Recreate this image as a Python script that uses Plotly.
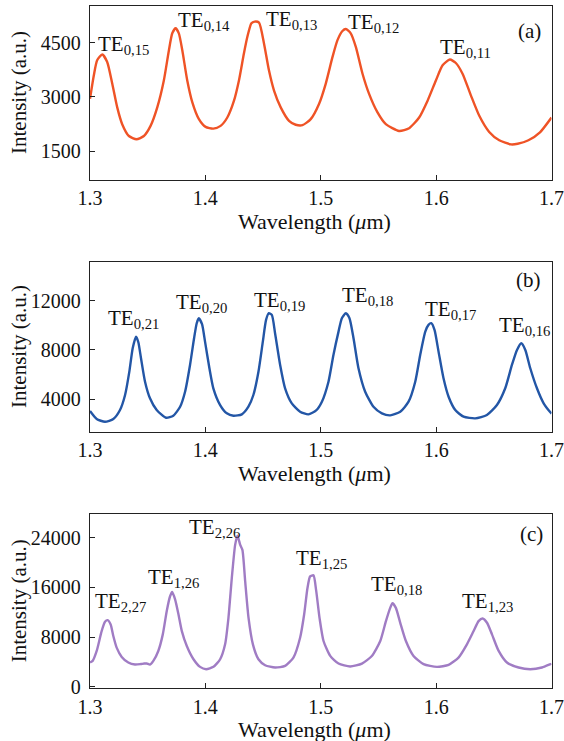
import plotly.graph_objects as go

# ---- spectra: wavelength (um) and intensity (a.u.) ----
wl_a = [1.3000, 1.3033, 1.3062, 1.3106, 1.3149, 1.3193, 1.3236, 1.3279, 1.3337, 1.3403,
        1.3467, 1.3525, 1.3583, 1.3640, 1.3684, 1.3713, 1.3742, 1.3770, 1.3800, 1.3843,
        1.3887, 1.3944, 1.4002, 1.4069, 1.4132, 1.4190, 1.4248, 1.4291, 1.4334, 1.4364,
        1.4399, 1.4427, 1.4465, 1.4508, 1.4551, 1.4595, 1.4653, 1.4725, 1.4783, 1.4841,
        1.4913, 1.4985, 1.5043, 1.5102, 1.5145, 1.5188, 1.5217, 1.5260, 1.5304, 1.5362,
        1.5419, 1.5492, 1.5564, 1.5679, 1.5766, 1.5853, 1.5926, 1.5998, 1.6056, 1.6119,
        1.6171, 1.6229, 1.6302, 1.6374, 1.6460, 1.6547, 1.6649, 1.6707, 1.6800, 1.6900,
        1.7000]
int_a = [2950, 3597, 4016, 4175, 3969, 3365, 2711, 2246, 1919, 1827,
         1919, 2199, 2711, 3457, 4296, 4763, 4903, 4763, 4296, 3457,
         2850, 2386, 2171, 2124, 2199, 2432, 2898, 3457, 4204, 4668,
         5042, 5087, 5059, 4483, 3737, 3177, 2711, 2339, 2230, 2218,
         2386, 2806, 3365, 4109, 4575, 4827, 4883, 4763, 4388, 3644,
         3085, 2571, 2246, 2059, 2134, 2432, 2898, 3457, 3876, 4036,
         3941, 3644, 3038, 2478, 2031, 1799, 1687, 1704, 1800, 2020,
         2430]

wl_b = [1.3000, 1.3058, 1.3130, 1.3202, 1.3260, 1.3304, 1.3341, 1.3370, 1.3399, 1.3419,
        1.3442, 1.3477, 1.3520, 1.3578, 1.3659, 1.3722, 1.3781, 1.3824, 1.3867, 1.3902,
        1.3925, 1.3943, 1.3971, 1.3997, 1.4035, 1.4069, 1.4128, 1.4186, 1.4243, 1.4316,
        1.4373, 1.4416, 1.4460, 1.4498, 1.4526, 1.4550, 1.4576, 1.4604, 1.4648, 1.4691,
        1.4749, 1.4821, 1.4893, 1.4960, 1.5010, 1.5067, 1.5110, 1.5154, 1.5183, 1.5218,
        1.5249, 1.5284, 1.5327, 1.5385, 1.5457, 1.5530, 1.5602, 1.5689, 1.5761, 1.5819,
        1.5862, 1.5906, 1.5934, 1.5958, 1.5986, 1.6021, 1.6064, 1.6108, 1.6166, 1.6238,
        1.6339, 1.6440, 1.6527, 1.6599, 1.6657, 1.6701, 1.6738, 1.6773, 1.6816, 1.6874,
        1.6932, 1.6990, 1.7000]
int_b = [3050, 2406, 2187, 2406, 3136, 4352, 6242, 8140, 9080, 8626,
         7329, 5431, 4085, 3136, 2511, 2674, 3403, 4620, 6785, 8950,
         10167, 10573, 10086, 8675, 6518, 4896, 3541, 2868, 2674, 2787,
         3403, 4352, 6242, 8675, 10435, 10978, 10840, 9356, 6785, 4896,
         3679, 2998, 2787, 3100, 3810, 5431, 7596, 9486, 10573, 10978,
         10573, 8950, 6518, 4620, 3403, 2868, 2706, 2998, 3810, 5431,
         7596, 9486, 10030, 10167, 9624, 7864, 5707, 4214, 3136, 2593,
         2463, 2733, 3541, 4896, 6785, 8002, 8545, 8002, 6518, 4896,
         3679, 2949, 2850]

wl_c = [1.3000, 1.3023, 1.3058, 1.3101, 1.3130, 1.3153, 1.3179, 1.3202, 1.3231, 1.3275,
        1.3332, 1.3390, 1.3440, 1.3470, 1.3492, 1.3520, 1.3549, 1.3592, 1.3631, 1.3665,
        1.3694, 1.3712, 1.3738, 1.3767, 1.3796, 1.3839, 1.3897, 1.3954, 1.4006, 1.4070,
        1.4128, 1.4171, 1.4200, 1.4229, 1.4258, 1.4278, 1.4302, 1.4321, 1.4345, 1.4374,
        1.4412, 1.4460, 1.4518, 1.4605, 1.4691, 1.4763, 1.4821, 1.4856, 1.4885, 1.4908,
        1.4937, 1.4960, 1.4990, 1.5024, 1.5082, 1.5154, 1.5255, 1.5357, 1.5443, 1.5516,
        1.5565, 1.5602, 1.5622, 1.5651, 1.5689, 1.5738, 1.5804, 1.5891, 1.6007, 1.6108,
        1.6194, 1.6267, 1.6325, 1.6368, 1.6403, 1.6441, 1.6484, 1.6542, 1.6614, 1.6715,
        1.6816, 1.6917, 1.6990, 1.7000]
int_c = [3900, 4160, 5760, 8960, 10453, 10720, 10027, 8160, 6293, 4800,
         3893, 3573, 3650, 3733, 3733, 3573, 4160, 5760, 8427, 12160,
         14560, 15253, 14027, 11627, 8960, 6560, 4427, 3200, 2827, 3200,
         4427, 6827, 11093, 17493, 22827, 24320, 22827, 22027, 16960, 11093,
         6827, 4427, 3467, 3093, 3360, 4693, 7893, 11627, 15893, 17760,
         17920, 15500, 11000, 7360, 4960, 3733, 3253, 3733, 4960, 7360,
         10560, 12693, 13440, 12693, 10293, 7360, 4960, 3627, 3200, 3520,
         4693, 6827, 8960, 10560, 10987, 10293, 8427, 5760, 3893, 3093,
         2827, 3093, 3627, 3700]

# ---- axis ticks ----
x_ticks = [1.3, 1.4, 1.5, 1.6, 1.7]
x_tick_text = ["1.3", "1.4", "1.5", "1.6", "1.7"]
y_ticks_a = [1500, 3000, 4500]
y_ticks_b = [4000, 8000, 12000]
y_ticks_c = [0, 8000, 16000, 24000]

# ---- mode labels ----
modes_a = ["TE<sub>0,15</sub>", "TE<sub>0,14</sub>", "TE<sub>0,13</sub>", "TE<sub>0,12</sub>", "TE<sub>0,11</sub>"]
modes_b = ["TE<sub>0,21</sub>", "TE<sub>0,20</sub>", "TE<sub>0,19</sub>", "TE<sub>0,18</sub>",
           "TE<sub>0,17</sub>", "TE<sub>0,16</sub>"]
modes_c = ["TE<sub>2,27</sub>", "TE<sub>1,26</sub>", "TE<sub>2,26</sub>", "TE<sub>1,25</sub>",
           "TE<sub>0,18</sub>", "TE<sub>1,23</sub>"]
panel_tags = ["(a)", "(b)", "(c)"]

# label anchor positions (left edge, middle of the capitals) in data units
pos_a = [(1.3052, 4450), (1.3744, 5093), (1.4512, 5143), (1.5219, 5051), (1.6017, 4352)]
pos_b = [(1.3139, 10516), (1.3729, 11813), (1.4406, 11959), (1.5169, 12357), (1.5883, 11246), (1.6529, 9964)]
pos_c = [(1.3023, 13584), (1.3486, 17440), (1.3839, 25584), (1.4764, 20624), (1.5415, 16384), (1.6210, 13584)]

W, H = 564, 741
SERIF = "Liberation Serif"
INK = "#111111"

# plot-area boxes in pixels: (top, bottom)
boxes = [(6, 180), (262.3, 431.7), (514.3, 688.3)]
x_left, x_right = 90, 551.5
y_ranges = [[700, 5520], [1380, 15100], [-250, 27750]]
colors = ["#EF5326", "#2356A6", "#A07CC4"]

fig = go.Figure()
series = [(wl_a, int_a), (wl_b, int_b), (wl_c, int_c)]
for i, (wl, inten) in enumerate(series):
    suffix = "" if i == 0 else str(i + 1)
    fig.add_trace(go.Scatter(
        x=wl, y=inten, mode="lines",
        line=dict(color=colors[i], width=2.4, shape="spline", smoothing=0.6),
        xaxis="x" + suffix, yaxis="y" + suffix, showlegend=False, hoverinfo="skip"))

layout = dict(
    width=W, height=H,
    margin=dict(l=0, r=0, t=0, b=0),
    paper_bgcolor="white", plot_bgcolor="white",
    font=dict(family=SERIF, size=20, color=INK),
    showlegend=False,
)

y_tick_sets = [y_ticks_a, y_ticks_b, y_ticks_c]
for i, (top, bot) in enumerate(boxes):
    suffix = "" if i == 0 else str(i + 1)
    axis_common = dict(
        showline=True, linecolor="#222", linewidth=1.4, mirror=True,
        ticks="inside", ticklen=5, tickwidth=1.2, tickcolor="#222",
        showgrid=False, zeroline=False, automargin=False,
        tickfont=dict(family=SERIF, size=20, color=INK),
    )
    layout["xaxis" + suffix] = dict(
        axis_common,
        domain=[x_left / W, x_right / W], range=[1.3, 1.7],
        tickvals=x_ticks, ticktext=x_tick_text,
        anchor="y" + suffix,
    )
    layout["yaxis" + suffix] = dict(
        axis_common,
        domain=[1 - bot / H, 1 - top / H], range=y_ranges[i],
        tickvals=y_tick_sets[i], ticktext=[str(v) for v in y_tick_sets[i]],
        ticklabelstandoff=4,
        anchor="x" + suffix,
    )

fig.update_layout(**layout)

annotations = []
for i, (modes, pos) in enumerate([(modes_a, pos_a), (modes_b, pos_b), (modes_c, pos_c)]):
    suffix = "" if i == 0 else str(i + 1)
    for txt, (xv, yv) in zip(modes, pos):
        annotations.append(dict(
            x=xv, y=yv, xref="x" + suffix, yref="y" + suffix,
            text=txt, showarrow=False, xanchor="left", yanchor="middle",
            font=dict(family=SERIF, size=21, color=INK)))

# panel tags
tag_pos = [(529, 31), (528, 280), (531, 534)]
for tag, (px, py) in zip(panel_tags, tag_pos):
    annotations.append(dict(
        x=px / W, y=1 - py / H, xref="paper", yref="paper", text=tag,
        showarrow=False, xanchor="center", yanchor="middle",
        font=dict(family=SERIF, size=21, color=INK)))

# axis titles
for top, bot in boxes:
    annotations.append(dict(
        x=315 / W, y=1 - (bot + 41.5) / H, xref="paper", yref="paper",
        text="Wavelength (<i>μ</i>m)", showarrow=False,
        xanchor="center", yanchor="middle",
        font=dict(family=SERIF, size=22, color=INK)))
    annotations.append(dict(
        x=19 / W, y=1 - (top + bot) / 2 / H, xref="paper", yref="paper",
        text="Intensity (a.u.)", showarrow=False, textangle=-90,
        xanchor="center", yanchor="middle",
        font=dict(family=SERIF, size=21, color=INK)))

fig.update_layout(annotations=annotations)
fig.write_html("out.html")
